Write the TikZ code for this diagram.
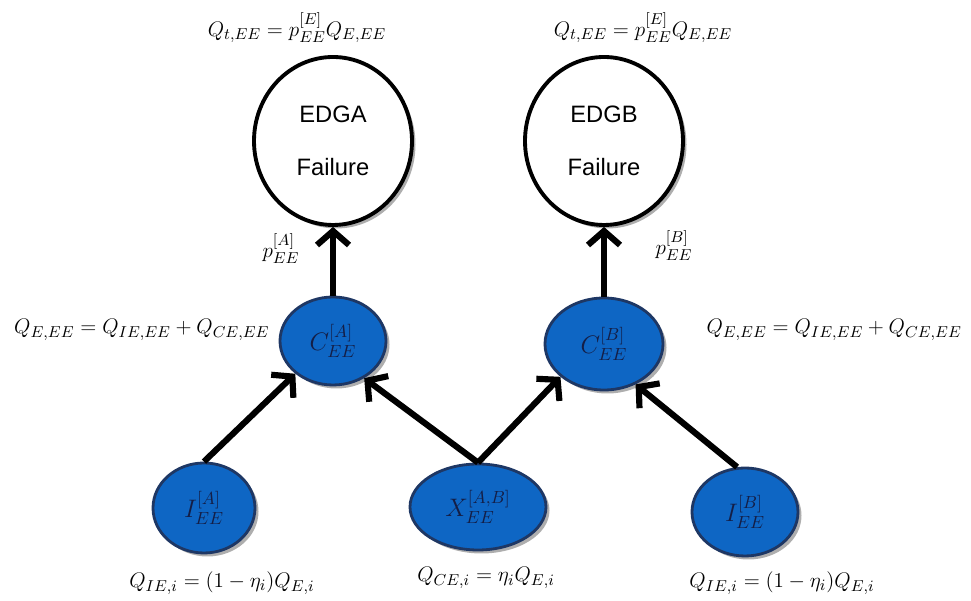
\documentclass[tikz,border=0pt]{standalone}
\usepackage{amsmath}
\usepackage{fontspec}
\newfontfamily\arialfont{Liberation Sans}
\usetikzlibrary{shapes.geometric, arrows.meta, positioning, shadows}

\definecolor{evblue}{RGB}{14,102,196}
\definecolor{evline}{RGB}{30,55,100}
\definecolor{evtext}{RGB}{20,30,70}

\begin{document}
\begin{tikzpicture}[
    failure/.style={draw, ellipse, line width=2.2pt, fill=white, minimum width=3.16cm, minimum height=3.36cm, align=center, font=\arialfont\fontsize{13.5}{30}\selectfont, drop shadow={shadow xshift=0.07cm, shadow yshift=-0.07cm, fill=black!45, opacity=0.7}},
    event/.style={draw=evline, ellipse, line width=1.6pt, fill=evblue, inner sep=0pt, text=evtext, font=\fontsize{14}{16}\selectfont, drop shadow={shadow xshift=0.07cm, shadow yshift=-0.07cm, fill=black!45, opacity=0.7}},
    arrow/.style={-{Straight Barb[length=2.8mm, width=6.4mm]}, line width=3.5pt},
    eqn/.style={font=\fontsize{12.8}{15}\selectfont},
]
\useasboundingbox (0,0) rectangle (19.42,12.02);
% Failure events
\node[failure] (EDGA) at (6.66,9.20) {EDGA\\Failure};
\node[failure] (EDGB) at (12.08,9.20) {EDGB\\Failure};
\node[eqn] (QtA) at (5.94,11.46) {$Q_{t,EE} = p_{EE}^{[E]}Q_{E,EE}$};
\node[eqn] (QtB) at (12.86,11.46) {$Q_{t,EE} = p_{EE}^{[E]}Q_{E,EE}$};
% Common events
\node[event, minimum width=2.12cm, minimum height=1.76cm] (CA) at (6.66,5.20) {$C_{EE}^{[A]}$};
\node[event, minimum width=2.36cm, minimum height=1.84cm] (CB) at (12.08,5.14) {$C_{EE}^{[B]}$};
\node[eqn] (pA) at (5.62,7.04) {$p_{EE}^{[A]}$};
\node[eqn] (pB) at (13.48,7.10) {$p_{EE}^{[B]}$};
\node[eqn, anchor=west] (QEA) at (0.16,5.42) {$Q_{E,EE} = Q_{IE,EE} + Q_{CE,EE}$};
\node[eqn, anchor=east] (QEB) at (19.36,5.42) {$Q_{E,EE} = Q_{IE,EE} + Q_{CE,EE}$};
% Basic events
\node[event, minimum width=2.04cm, minimum height=1.80cm] (IA) at (4.08,1.86) {$I_{EE}^{[A]}$};
\node[event, minimum width=2.72cm, minimum height=1.72cm] (XAB) at (9.56,1.88) {$X_{EE}^{[A,B]}$};
\node[event, minimum width=2.12cm, minimum height=1.76cm] (IB) at (14.90,1.78) {$I_{EE}^{[B]}$};
\node[eqn] (QIA) at (4.44,0.36) {$Q_{IE,i} = (1-\eta_i)Q_{E,i}$};
\node[eqn] (QCX) at (9.72,0.46) {$Q_{CE,i} = \eta_iQ_{E,i}$};
\node[eqn] (QIB) at (15.64,0.36) {$Q_{IE,i} = (1-\eta_i)Q_{E,i}$};
% Arrows
\draw[arrow] (IA.north) -- (CA.221);
\draw[arrow] (XAB.north) -- (CA.310);
\draw[arrow] (XAB.north) -- (CB.217);
\draw[arrow] (IB.100) -- (CB.308);
\draw[arrow] (CA.north) -- (EDGA.south);
\draw[arrow] (CB.north) -- (EDGB.south);
\end{tikzpicture}
\end{document}
